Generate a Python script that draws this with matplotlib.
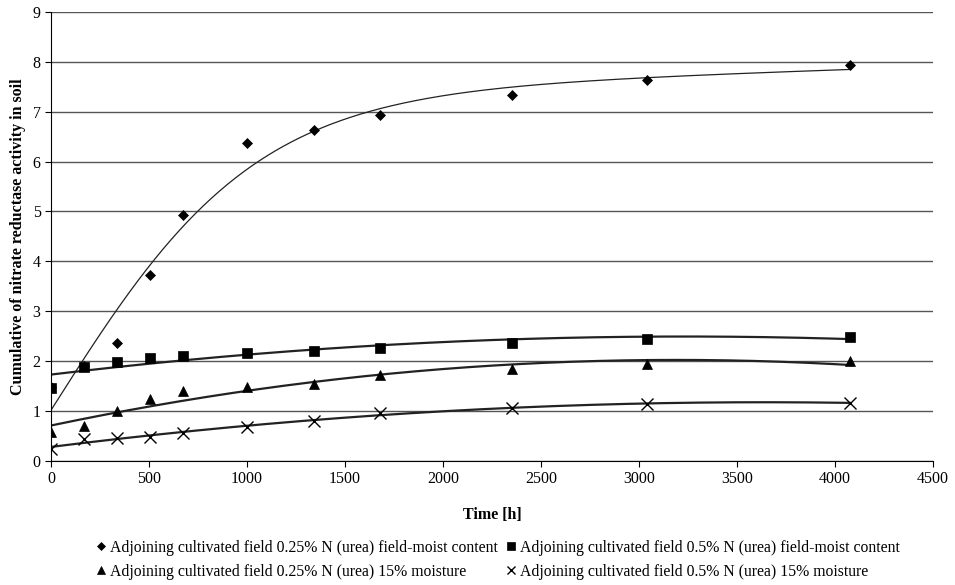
import numpy as np
import matplotlib
matplotlib.use("Agg")
import matplotlib.pyplot as plt

time_h = [0, 168, 336, 504, 672, 1000, 1344, 1680, 2352, 3040, 4075]
s_025_field = [1.47, 1.90, 2.36, 3.73, 4.93, 6.37, 6.64, 6.93, 7.34, 7.64, 7.93]
s_05_field = [1.46, 1.87, 1.97, 2.06, 2.10, 2.17, 2.20, 2.27, 2.37, 2.44, 2.49]
s_025_15 = [0.57, 0.70, 1.00, 1.24, 1.39, 1.47, 1.53, 1.71, 1.84, 1.94, 1.99]
s_05_15 = [0.23, 0.44, 0.45, 0.48, 0.55, 0.68, 0.80, 0.96, 1.06, 1.14, 1.16]

labels = [
    "Adjoining cultivated field 0.25% N (urea) field-moist content",
    "Adjoining cultivated field 0.5% N (urea) field-moist content",
    "Adjoining cultivated field 0.25% N (urea) 15% moisture",
    "Adjoining cultivated field 0.5% N (urea) 15% moisture",
]
x_ticks = list(range(0, 4501, 500))
y_ticks = list(range(0, 10))

plt.rcParams['font.family'] = ['Liberation Serif', 'DejaVu Serif']

fig = plt.figure(figsize=(9.55, 5.85), dpi=100)
ax = fig.add_axes([0.0534, 0.2125, 0.9236, 0.767])

x = np.array(time_h, dtype=float)
xs = np.linspace(0, max(time_h), 400)


def fit_saturating(xv, yv):
    # y = a + b*tanh(x/c) + d*x, c by grid search, rest by least squares
    best = None
    for c in np.linspace(300, 3000, 541):
        A = np.column_stack([np.ones_like(xv), np.tanh(xv / c), xv])
        coef, *_ = np.linalg.lstsq(A, yv, rcond=None)
        err = np.sum((A @ coef - yv) ** 2)
        if best is None or err < best[0]:
            best = (err, c, coef)
    _, c, coef = best
    return lambda t: coef[0] + coef[1] * np.tanh(t / c) + coef[2] * t


def fit_poly2(xv, yv):
    c = np.polyfit(xv, yv, 2)
    return lambda t: np.polyval(c, t)


series = [
    (s_025_field, 'D', 5, fit_saturating, 0.9),
    (s_05_field, 's', 6.5, fit_poly2, 1.6),
    (s_025_15, '^', 6.5, fit_poly2, 1.6),
    (s_05_15, 'x', 8, fit_poly2, 1.6),
]
handles = []
for (vals, mk, ms, fitter, lw), lab in zip(series, labels):
    y = np.array(vals)
    h, = ax.plot(x, y, linestyle='none', marker=mk, markersize=ms,
                 color='black', markeredgewidth=1.0 if mk == 'x' else 0.5,
                 label=lab, zorder=3)
    handles.append(h)
    f = fitter(x, y)
    ax.plot(xs, f(xs), color='#222222', lw=lw, zorder=2)

ax.set_xlim(0, 4500)
ax.set_ylim(0, 9)
ax.set_xticks(x_ticks)
ax.set_yticks(y_ticks)
ax.yaxis.grid(True, color='#555555', lw=1.0)
ax.set_axisbelow(True)
for s in ['top', 'right']:
    ax.spines[s].set_visible(False)
ax.tick_params(direction='out', length=4, labelsize=11.5)
ax.set_xlabel("Time [h]", fontweight='bold', fontsize=11.5, labelpad=14)
ax.set_ylabel("Cumulative of nitrate reductase activity in soil",
              fontweight='bold', fontsize=11.5, labelpad=5)

order = [0, 2, 1, 3]
fig.legend([handles[i] for i in order], [labels[i] for i in order],
           loc='lower center', bbox_to_anchor=(0.52, -0.015), ncol=2,
           frameon=False, fontsize=11.3, handletextpad=0.1,
           columnspacing=0.3, handlelength=1.0, markerscale=0.8,
           labelspacing=0.5)

fig.savefig("out.png", dpi=100)
